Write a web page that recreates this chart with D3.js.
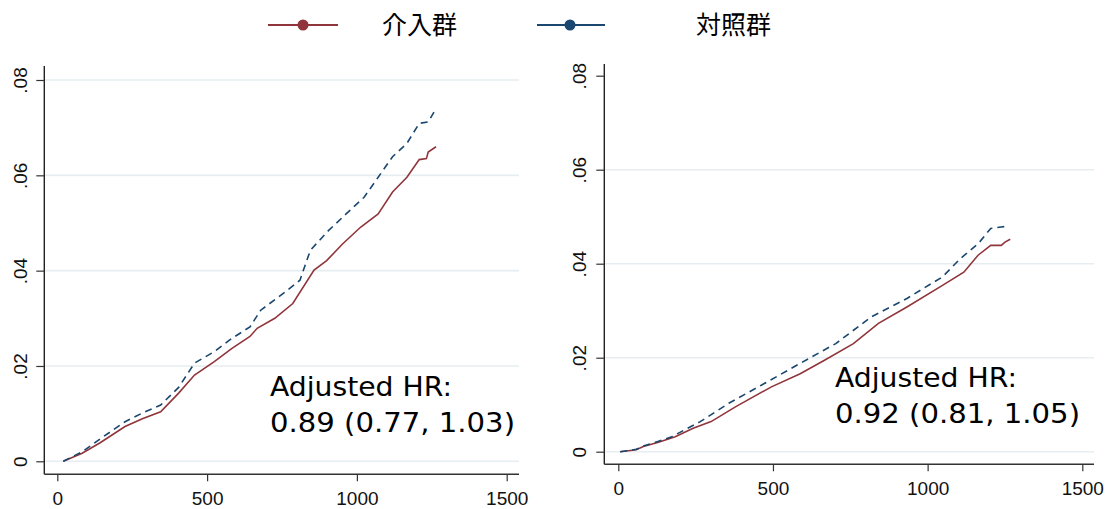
<!DOCTYPE html>
<meta charset="utf-8">
<script src="https://cdnjs.cloudflare.com/ajax/libs/d3/7.8.5/d3.min.js"></script>
<style>
	body { margin: 0; background: #fff; }
	svg { display: block; }
	.tick text { font-family: "Liberation Sans", Arial, sans-serif; font-size: 19px; fill: #111; }
	.tick line { stroke: #333; stroke-width: 1.2; }
	.hr { font-family: "DejaVu Sans", Verdana, sans-serif; font-size: 27px; fill: #000; }
	.leg { font-family: "Noto Sans CJK JP", sans-serif; font-size: 25px; fill: #000; }
</style>
<body>
<svg id="plot" width="1109" height="509"></svg>
<script>
	// legend / groups
	var groups = ["介入群", "対照群"];
	var colors = ["#90353b", "#1a476f"];

	var xTicks = [0, 500, 1000, 1500];
	var yTicks = [0, 0.02, 0.04, 0.06, 0.08];

	// left panel: [day, cumulative incidence]
	var leftInterv = [[20,0],[83,0.0017],[143,0.0039],[226,0.0073],[286,0.009],[345,0.0104],[405,0.0143],[458,0.0181],[524,0.0209],[583,0.0237],[643,0.0262],[667,0.0279],[726,0.030],[786,0.0331],[857,0.0401],[899,0.0421],[952,0.0456],[1012,0.0491],[1071,0.0519],[1119,0.0565],[1167,0.0596],[1208,0.0633],[1232,0.0635],[1238,0.0649],[1264,0.066]];
	var leftControl = [[20,0],[83,0.002],[143,0.0047],[226,0.0083],[286,0.0102],[345,0.0118],[405,0.0155],[458,0.0206],[524,0.023],[583,0.0258],[643,0.0282],[679,0.0317],[762,0.0356],[810,0.038],[833,0.0422],[845,0.0443],[905,0.0484],[964,0.0519],[1024,0.0554],[1071,0.0596],[1119,0.0639],[1167,0.0667],[1208,0.0709],[1238,0.0712],[1264,0.074]];
	var leftHR = ["Adjusted HR:", "0.89 (0.77, 1.03)"];

	// right panel
	var rightInterv = [[6,0],[58,0.0004],[81,0.0011],[130,0.002],[184,0.0032],[242,0.005],[300,0.0064],[380,0.0096],[495,0.0138],[588,0.0166],[668,0.0195],[760,0.023],[841,0.0273],[933,0.0308],[1048,0.0354],[1117,0.0382],[1163,0.0418],[1204,0.0439],[1238,0.0439],[1250,0.0446],[1267,0.0452]];
	var rightControl = [[6,0],[58,0.0005],[81,0.0012],[130,0.0022],[173,0.0032],[265,0.0064],[357,0.0103],[472,0.0145],[588,0.0188],[703,0.023],[818,0.0287],[933,0.0326],[1048,0.0372],[1106,0.0411],[1164,0.0443],[1204,0.0475],[1238,0.0478],[1261,0.048]];
	var rightHR = ["Adjusted HR:", "0.92 (0.81, 1.05)"];

	var svg = d3.select("#plot");

	function yfmt(d){
		return d === 0 ? "0" : d3.format(".2f")(d).replace(/^0/, "");
	}

	function panel(p){
		var x = d3.scaleLinear().domain([0, 1500]).range(p.xr),
			y = d3.scaleLinear().domain([0, 0.08]).range(p.yr);
		var g = svg.append("g");

		// grid
		g.selectAll(".grid").data(p.grid).enter()
			.append("line")
			.attr("x1", p.ax).attr("x2", p.right)
			.attr("y1", function(d){ return y(d) }).attr("y2", function(d){ return y(d) })
			.style("stroke", "#e6eef1").style("stroke-width", 1.6);

		// axis lines
		g.append("line").attr("x1", p.ax).attr("x2", p.ax).attr("y1", p.top).attr("y2", p.ay)
			.style("stroke", "#222").style("stroke-width", 1.4);
		g.append("line").attr("x1", p.ax).attr("x2", p.right).attr("y1", p.ay).attr("y2", p.ay)
			.style("stroke", "#333").style("stroke-width", 1.4);

		var xa = g.append("g").attr("transform", "translate(0," + p.ay + ")")
			.call(d3.axisBottom(x).tickValues(xTicks).tickFormat(d3.format("d")).tickSize(7).tickSizeOuter(0));
		xa.select(".domain").remove();
		xa.selectAll("text").attr("y", 31).attr("dy", null);

		var ya = g.append("g").attr("transform", "translate(" + p.ax + ",0)")
			.call(d3.axisLeft(y).tickValues(yTicks).tickFormat(yfmt).tickSize(8).tickSizeOuter(0));
		ya.select(".domain").remove();
		ya.selectAll("text")
			.attr("transform", "rotate(-90)")
			.attr("x", 0).attr("y", p.ly).attr("dy", null)
			.attr("text-anchor", "middle");

		var line = d3.line()
			.x(function(d){ return x(d[0]) })
			.y(function(d){ return y(d[1]) });

		g.append("path").datum(p.interv).attr("d", line)
			.style("fill", "none").style("stroke", colors[0]).style("stroke-width", 1.6);
		g.append("path").datum(p.control).attr("d", line)
			.style("fill", "none").style("stroke", colors[1]).style("stroke-width", 1.6)
			.style("stroke-dasharray", "7,5");

		// the source font is narrow in letters, wide in digits
		var lens = [182, 245];
		g.selectAll(".hr").data(p.hr).enter()
			.append("text").attr("class", "hr")
			.attr("x", p.tx)
			.attr("y", function(d, i){ return p.ty + i * 36.3 })
			.attr("textLength", function(d, i){ return lens[i] })
			.attr("lengthAdjust", "spacingAndGlyphs")
			.text(function(d){ return d });
	}

	panel({ xr: [57.3, 506.7], yr: [461.3, 80], ax: 44.3, ay: 474.3, top: 66, right: 519, ly: -17.5,
		grid: [0, 0.02, 0.04, 0.06, 0.08], interv: leftInterv, control: leftControl,
		hr: leftHR, tx: 270, ty: 395.5 });
	panel({ xr: [618.3, 1082.3], yr: [451.7, 75.7], ax: 604.3, ay: 464.3, top: 64, right: 1094, ly: -18.8,
		grid: [0, 0.02, 0.04, 0.06], interv: rightInterv, control: rightControl,
		hr: rightHR, tx: 835, ty: 387 });

	// legend
	var leg = [
		{ x1: 268, x2: 338, cx: 303, tx: 382 },
		{ x1: 537, x2: 605, cx: 570, tx: 696 }
	];
	leg.forEach(function(l, i){
		svg.append("line").attr("x1", l.x1).attr("x2", l.x2).attr("y1", 25).attr("y2", 25)
			.style("stroke", colors[i]).style("stroke-width", 1.8);
		svg.append("circle").attr("cx", l.cx).attr("cy", 25).attr("r", 5.5).attr("fill", colors[i]);
		svg.append("text").attr("class", "leg").attr("x", l.tx).attr("y", 34).text(groups[i]);
	});
</script>
</body>
